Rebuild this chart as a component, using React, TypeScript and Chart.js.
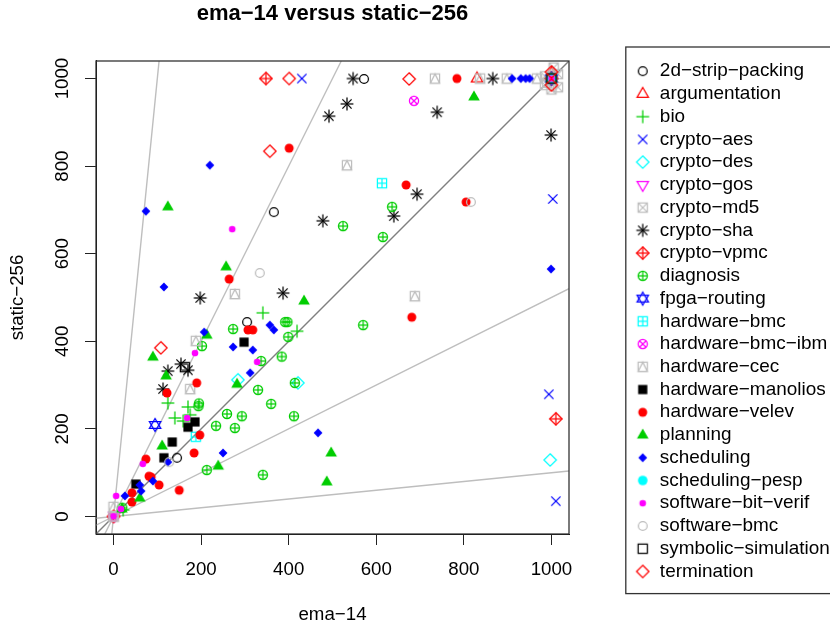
import React, { useEffect, useRef } from "react";
import { Chart, registerables } from "chart.js";

Chart.register(...registerables);

const title = "ema\u221214 versus static\u2212256";
const xTitle = "ema\u221214";
const yTitle = "static\u2212256";
const axisTicks = [0, 200, 400, 600, 800, 1000];

const stripPacking = [[366, 695], [572, 999], [305, 444], [145, 134], [1000, 1000]];
const argumentation = [[830, 1000], [1000, 1012], [1000, 1000]];
const bio = [[124, 259], [170, 250], [140, 225], [159, 218], [175, 232], [341, 465], [419, 423], [22, 15]];
const cryptoAes = [[430, 1000], [1003, 725], [994, 279], [1010, 35]];
const cryptoDes = [[997, 129], [421, 305], [284, 312], [1000, 1000]];
const cryptoGos = [[1000, 1000], [2, 2]];
const cryptoMd5 = [[985, 985], [1000, 975], [1015, 980], [985, 1005], [1015, 1010], [1005, 1025], [990, 990], [1000, 1000], [0, 0]];
const cryptoSha = [[492, 914], [478, 675], [387, 510], [198, 499], [547, 1000], [533, 942], [739, 923], [866, 1000], [999, 871], [693, 736], [640, 686], [154, 348], [170, 334], [124, 332], [113, 291], [1000, 1000]];
const cryptoVpmc = [[348, 1000], [1010, 223], [1000, 1000], [0, 0]];
const diagnosis = [[636, 707], [524, 663], [615, 638], [570, 437], [392, 444], [397, 444], [399, 410], [384, 365], [337, 355], [414, 305], [330, 289], [360, 257], [412, 229], [341, 95], [273, 428], [202, 389], [195, 258], [194, 252], [234, 207], [259, 234], [293, 229], [277, 202], [213, 106], [20, 20], [1000, 1000]];
const fpgaRouting = [[95, 209], [1000, 1000]];
const hardwareBmc = [[613, 761], [188, 182], [1000, 1000]];
const hardwareBmcIbm = [[686, 949], [1000, 1000], [0, 0]];
const hardwareCec = [[533, 802], [277, 508], [688, 503], [188, 401], [175, 291], [734, 1000], [837, 1000], [898, 1000], [967, 1000], [1000, 1000], [0, 22], [0, 0]];
const hardwareManolios = [[298, 398], [186, 216], [170, 204], [134, 170], [115, 134], [51, 74], [1000, 1000]];
const hardwareVelev = [[401, 841], [264, 542], [784, 1000], [668, 757], [805, 718], [681, 455], [307, 426], [318, 426], [190, 305], [122, 282], [197, 186], [184, 145], [74, 131], [81, 92], [86, 90], [104, 72], [150, 60], [42, 54], [42, 33], [1000, 1000]];
const planning = [[124, 707], [257, 570], [435, 492], [823, 958], [497, 145], [487, 79], [213, 414], [90, 364], [120, 321], [111, 161], [282, 302], [239, 115], [60, 42], [19, 17], [1000, 1000]];
const scheduling = [[220, 802], [74, 697], [115, 524], [999, 565], [910, 1000], [930, 1000], [941, 1000], [950, 1000], [357, 437], [366, 426], [318, 380], [312, 328], [467, 191], [207, 421], [273, 387], [124, 124], [250, 145], [90, 81], [60, 72], [63, 58], [26, 47], [1000, 1000]];
const schedulingPesp = [[1000, 1000]];
const softwareBitVerif = [[271, 656], [186, 373], [168, 225], [328, 353], [67, 120], [6, 47], [17, 17], [0, 1], [1000, 1000]];
const softwareBmc = [[334, 556], [816, 718], [127, 124], [0, 0]];
const symbolicSimulation = [[163, 341], [1000, 1000]];
const termination = [[401, 1000], [357, 834], [675, 999], [108, 385], [1000, 1015], [1000, 985]];

const guideY10 = [[-40, -400], [104, 1040]];
const guideY2 = [[-40, -80], [520, 1040]];
const guideY1 = [[-40, -40], [1040, 1040]];
const guideHalf = [[-40, -20], [1040, 520]];
const guideTenth = [[-40, -4], [1040, 104]];

const BLACK = "#000000", RED = "#FF0000", GREEN = "#00CD00", BLUE = "#0000FF", CYAN = "#00FFFF", MAGENTA = "#FF00FF", GRAY = "#BEBEBE";

type Shape = (c: CanvasRenderingContext2D) => void;
const line = (c: CanvasRenderingContext2D, pts: number[][], close = false) => {
  c.beginPath();
  pts.forEach((p, i) => (i ? c.lineTo(p[0], p[1]) : c.moveTo(p[0], p[1])));
  if (close) c.closePath();
};
const circle: (r: number) => Shape = (r) => (c) => { c.beginPath(); c.arc(0, 0, r, 0, Math.PI * 2); c.stroke(); };
const disc: (r: number) => Shape = (r) => (c) => { c.beginPath(); c.arc(0, 0, r, 0, Math.PI * 2); c.fill(); };
const triUp: Shape = (c) => { line(c, [[0, -6.5], [5.7, 3.4], [-5.7, 3.4]], true); c.stroke(); };
const triDown: Shape = (c) => { line(c, [[0, 6.5], [5.7, -3.4], [-5.7, -3.4]], true); c.stroke(); };
const plus: Shape = (c) => { line(c, [[-6.4, 0], [6.4, 0]]); c.stroke(); line(c, [[0, -6.4], [0, 6.4]]); c.stroke(); };
const cross: Shape = (c) => { line(c, [[-4.6, -4.6], [4.6, 4.6]]); c.stroke(); line(c, [[-4.6, 4.6], [4.6, -4.6]]); c.stroke(); };
const diamond: Shape = (c) => { line(c, [[0, -6.2], [6.2, 0], [0, 6.2], [-6.2, 0]], true); c.stroke(); };
const square: Shape = (c) => { c.strokeRect(-4.6, -4.6, 9.2, 9.2); };
const combo = (...s: Shape[]): Shape => (c) => s.forEach((f) => f(c));
const squareCross: Shape = combo(square, cross);
const star: Shape = combo(plus, cross);
const diamondPlus: Shape = combo(diamond, plus);
const circlePlus: Shape = combo(circle(4.6), (c) => { line(c, [[-4.6, 0], [4.6, 0]]); c.stroke(); line(c, [[0, -4.6], [0, 4.6]]); c.stroke(); });
const david: Shape = combo(triUp, triDown);
const squarePlus: Shape = combo(square, (c) => { line(c, [[-4.6, 0], [4.6, 0]]); c.stroke(); line(c, [[0, -4.6], [0, 4.6]]); c.stroke(); });
const circleCross: Shape = combo(circle(4.6), (c) => { line(c, [[-3.3, -3.3], [3.3, 3.3]]); c.stroke(); line(c, [[-3.3, 3.3], [3.3, -3.3]]); c.stroke(); });
const squareTri: Shape = combo(square, (c) => { line(c, [[0, -4.6], [4.6, 4.6], [-4.6, 4.6]], true); c.stroke(); });
const solidSquare: Shape = (c) => c.fillRect(-4.6, -4.6, 9.2, 9.2);
const solidTri: Shape = (c) => { line(c, [[0, -6.5], [5.8, 3.5], [-5.8, 3.5]], true); c.fill(); };
const solidDiamond: Shape = (c) => { line(c, [[0, -4.4], [4.4, 0], [0, 4.4], [-4.4, 0]], true); c.fill(); };

const marker = (shape: Shape, color: string) => {
  const cv = document.createElement("canvas");
  cv.width = 20;
  cv.height = 20;
  const c = cv.getContext("2d")!;
  c.translate(10, 10);
  c.strokeStyle = color;
  c.fillStyle = color;
  c.lineWidth = 1.25;
  shape(c);
  return cv;
};

const series: [string, number[][], Shape, string][] = [
  ["2d\u2212strip\u2212packing", stripPacking, circle(4.4), BLACK],
  ["argumentation", argumentation, triUp, RED],
  ["bio", bio, plus, GREEN],
  ["crypto\u2212aes", cryptoAes, cross, BLUE],
  ["crypto\u2212des", cryptoDes, diamond, CYAN],
  ["crypto\u2212gos", cryptoGos, triDown, MAGENTA],
  ["crypto\u2212md5", cryptoMd5, squareCross, GRAY],
  ["crypto\u2212sha", cryptoSha, star, BLACK],
  ["crypto\u2212vpmc", cryptoVpmc, diamondPlus, RED],
  ["diagnosis", diagnosis, circlePlus, GREEN],
  ["fpga\u2212routing", fpgaRouting, david, BLUE],
  ["hardware\u2212bmc", hardwareBmc, squarePlus, CYAN],
  ["hardware\u2212bmc\u2212ibm", hardwareBmcIbm, circleCross, MAGENTA],
  ["hardware\u2212cec", hardwareCec, squareTri, GRAY],
  ["hardware\u2212manolios", hardwareManolios, solidSquare, BLACK],
  ["hardware\u2212velev", hardwareVelev, disc(4.5), RED],
  ["planning", planning, solidTri, GREEN],
  ["scheduling", scheduling, solidDiamond, BLUE],
  ["scheduling\u2212pesp", schedulingPesp, disc(4.8), CYAN],
  ["software\u2212bit\u2212verif", softwareBitVerif, disc(3.3), MAGENTA],
  ["software\u2212bmc", softwareBmc, circle(4.4), GRAY],
  ["symbolic\u2212simulation", symbolicSimulation, square, BLACK],
  ["termination", termination, diamond, RED],
];

const guides: [number[][], string][] = [
  [guideY10, "#BEBEBE"],
  [guideY2, "#BEBEBE"],
  [guideY1, "#808080"],
  [guideHalf, "#BEBEBE"],
  [guideTenth, "#BEBEBE"],
];

const FONT = "'Liberation Sans', Arial, sans-serif";
const TEXT_SIZE = 18.7;
const LEGEND_SIZE = 18.95;

const framePlugin = {
  id: "frame",
  afterLayout(chart: any) {
    const l = chart.legend;
    l.left = 631.3;
    l.right = 829;
    l.top = 57.9;
    l.bottom = 620;
  },
  afterDatasetsDraw(chart: any) {
    const { ctx, chartArea: a } = chart;
    ctx.save();
    ctx.strokeStyle = "#333333";
    ctx.lineWidth = 1.3;
    ctx.strokeRect(a.left, a.top, a.right - a.left, a.bottom - a.top);
    ctx.restore();
  },
  afterDraw(chart: any) {
    const { ctx } = chart;
    ctx.save();
    ctx.strokeStyle = "#333333";
    ctx.lineWidth = 1.3;
    ctx.strokeRect(625.8, 47, 210, 546.6);
    ctx.restore();
  },
};

export default function App() {
  const ref = useRef<HTMLCanvasElement>(null);
  useEffect(() => {
    const axis = (text: string, pad: any, extra: any) => ({
      type: "linear",
      min: -40,
      max: 1040,
      afterBuildTicks: (s: any) => { s.ticks = axisTicks.map((value) => ({ value })); },
      grid: { display: true, drawOnChartArea: false, drawTicks: true, tickLength: 11, tickColor: "#222", tickWidth: 1 },
      border: { display: true, color: "#000", width: 1 },
      title: { display: true, text, color: "#000", padding: pad, font: { family: FONT, size: TEXT_SIZE } },
      ...extra,
    });
    const chart = new Chart(ref.current!, {
      type: "scatter",
      data: {
        datasets: [
          ...series.map(([label, pts, shape, color], i) => ({
            label,
            data: pts.map(([x, y]) => ({ x, y })),
            pointStyle: marker(shape, color),
            pointRadius: 6,
            borderColor: color,
            backgroundColor: color,
            order: 100 - i,
          })),
          ...guides.map(([pts, color], i) => ({
            label: "guide" + i,
            data: pts.map(([x, y]) => ({ x, y })),
            showLine: true,
            pointRadius: 0,
            borderColor: color,
            borderWidth: 1.4,
            order: 500,
          })),
        ],
      },
      options: {
        responsive: false,
        animation: false,
        events: [],
        layout: { padding: { left: 0, top: 0, bottom: 0, right: 81 } },
        plugins: {
          tooltip: { enabled: false },
          title: {
            display: true,
            text: title,
            color: "#000",
            fullSize: false,
            font: { family: FONT, size: 22, weight: "bold", lineHeight: 1.2 },
            padding: { top: 0.8, bottom: 33.8 },
          },
          legend: {
            display: true,
            position: "right",
            align: "start",
            maxWidth: 180,
            labels: {
              usePointStyle: true,
              pointStyleWidth: 15.3,
              boxHeight: LEGEND_SIZE,
              padding: 3.79,
              color: "#000",
              font: { family: FONT, size: LEGEND_SIZE },
              filter: (item: any) => !String(item.text).startsWith("guide"),
              sort: (a: any, b: any) => a.datasetIndex - b.datasetIndex,
            },
          },
        },
        scales: {
          x: axis(xTitle, { top: 0, bottom: 0 }, {
            afterFit: (s: any) => { s.height = 92; },
            ticks: { autoSkip: false, minRotation: 0, maxRotation: 0, padding: 14, color: "#000", font: { family: FONT, size: TEXT_SIZE }, callback: (v: any) => String(v) },
          }),
          y: axis(yTitle, { top: 6.6, bottom: 0 }, {
            afterFit: (s: any) => { s.width = 96; },
            ticks: { autoSkip: false, minRotation: 90, maxRotation: 90, crossAlign: "center", padding: 1.7, color: "#000", font: { family: FONT, size: TEXT_SIZE }, callback: (v: any) => String(v) },
          }),
        },
      } as any,
      plugins: [framePlugin],
    } as any);
    return () => chart.destroy();
  }, []);
  return <canvas ref={ref} width={830} height={626} style={{ position: "fixed", left: 0, top: 0, display: "block" }} />;
}
